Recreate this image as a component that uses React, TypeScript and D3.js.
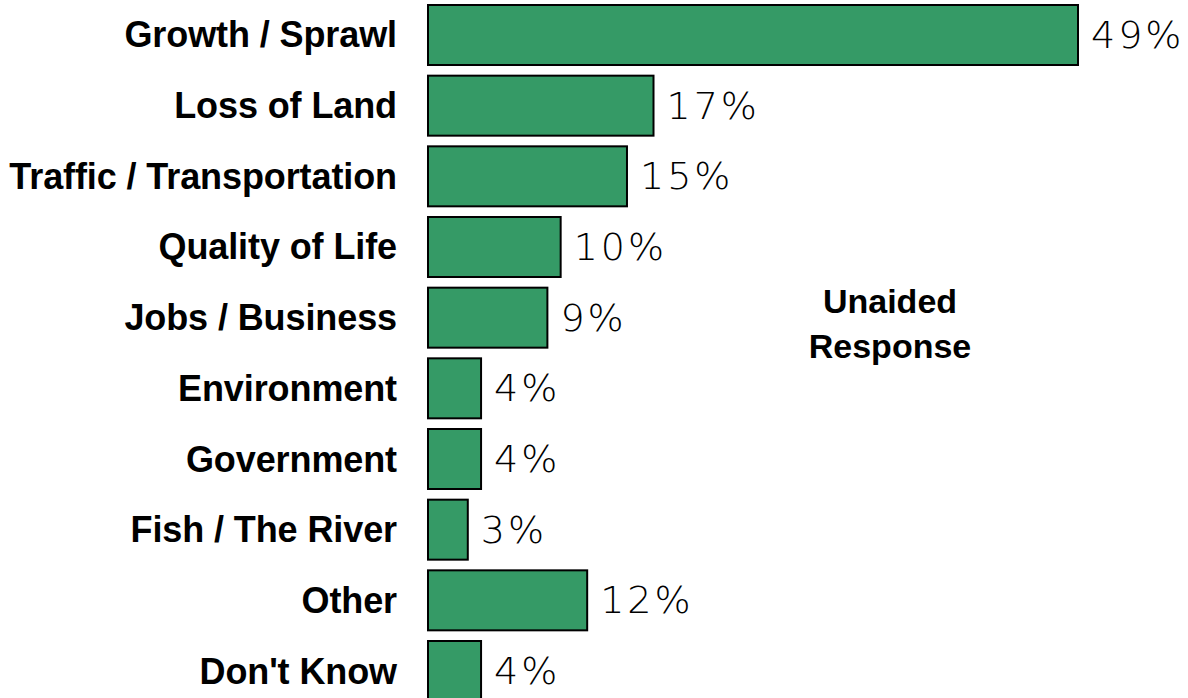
import React from "react";
import * as d3 from "d3";

const categories = [
  "Growth / Sprawl",
  "Loss of Land",
  "Traffic / Transportation",
  "Quality of Life",
  "Jobs / Business",
  "Environment",
  "Government",
  "Fish / The River",
  "Other",
  "Don't Know",
];
const values = [49, 17, 15, 10, 9, 4, 4, 3, 12, 4];
const annotation = ["Unaided", "Response"];

const W = 1188;
const H = 698;

export default function App() {
  const x = d3.scaleLinear().domain([0, 49]).range([428, 1078]);
  const y = d3
    .scaleBand<string>()
    .domain(categories)
    .range([5, 701])
    .paddingInner(0.151)
    .paddingOuter(0);
  const bw = y.bandwidth();
  return (
    <svg
      width={W}
      height={H}
      style={{ position: "fixed", left: 0, top: 0, background: "#fff" }}
    >
      {categories.map((c, i) => {
        const yy = y(c)!;
        const cy = yy + bw / 2;
        return (
          <g key={c}>
            <rect
              x={x(0)}
              y={yy}
              width={x(values[i]) - x(0)}
              height={bw}
              fill="#359a66"
              stroke="#000"
              strokeWidth={2}
            />
            <text
              x={397}
              y={cy}
              textAnchor="end"
              dominantBaseline="central"
              fontFamily="'Liberation Sans', Arial, sans-serif"
              fontWeight="bold"
              fontSize={36}
              letterSpacing={-0.1}
              fill="#000"
            >
              {c}
            </text>
            <text
              x={x(values[i]) + 13}
              y={cy}
              dominantBaseline="central"
              fontFamily="'DejaVu Sans', sans-serif"
              fontWeight={300}
              fontSize={38}
              letterSpacing={3}
              fill="#000"
            >
              {values[i]}%
            </text>
          </g>
        );
      })}
      {annotation.map((t, i) => (
        <text
          key={t}
          x={890}
          y={301 + i * 45}
          textAnchor="middle"
          dominantBaseline="central"
          fontFamily="'Liberation Sans', Arial, sans-serif"
          fontWeight="bold"
          fontSize={34}
          fill="#000"
        >
          {t}
        </text>
      ))}
    </svg>
  );
}
